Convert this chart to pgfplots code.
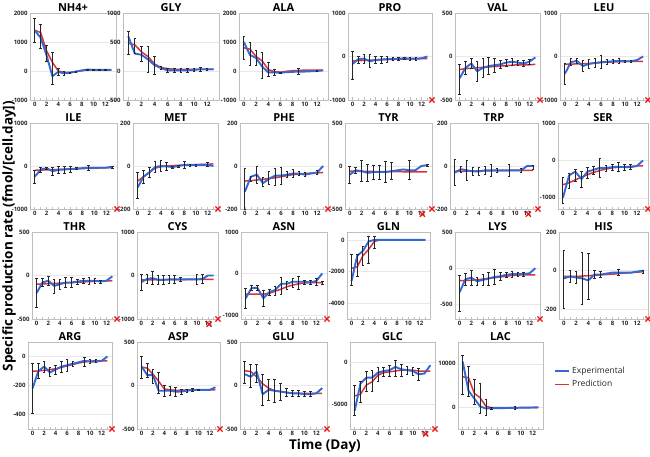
\documentclass[border=0pt]{standalone}
\usepackage{pgfplots}
\pgfplotsset{compat=1.18}
\usepackage{fontspec}
\setmainfont{Open Sans}
\definecolor{expblue}{RGB}{52,104,214}
\definecolor{predred}{RGB}{214,52,62}
\definecolor{axgray}{RGB}{190,190,190}
\definecolor{gridgray}{RGB}{232,232,232}
\definecolor{txtgray}{RGB}{35,35,35}
\definecolor{xred}{RGB}{235,20,20}
\pgfplotsset{
 every axis title/.style={at={(0.5,1)}, anchor=base, yshift=1.8pt, font=\fontsize{11}{12}\selectfont\bfseries},
 pan/.style={scale only axis, anchor=south west, xmin=-0.8, xmax=13.8,
  xtick={0,2,...,12}, minor xtick={1,3,...,13}, clip=false,
  axis line style={draw=axgray, line width=0.9pt},
  xtick style={draw=axgray, line width=0.6pt}, major tick length=2.5pt, minor tick length=2pt,
  ytick style={draw=none}, xtick pos=bottom, ytick pos=left, tick align=inside,
  ymajorgrids, grid style={draw=gridgray, line width=0.5pt},
  tick label style={font=\fontsize{6}{7}\selectfont\bfseries, text=txtgray},
  xticklabel style={yshift=1pt}, yticklabel style={xshift=1pt},
  /pgf/number format/assume math mode=true, /pgf/number format/1000 sep={},
  scaled ticks=false,
 },
 expline/.style={forget plot, draw=expblue, line width=1.9pt, mark=none, line join=round},
 predline/.style={forget plot, draw=predred, line width=1.5pt, mark=none, line join=round},
 errplot/.style={forget plot, draw=none, mark=none, error bars/.cd, y dir=both, y explicit,
   error bar style={draw=black!85, line width=0.9pt},
   error mark options={draw=black!85, rotate=90, mark size=1.3pt, line width=0.7pt}},
 xmk/.style={forget plot, only marks, mark=x, mark size=3.6pt, mark options={draw=xred, line width=1.3pt}},
}
\newcommand{\Pred}[1]{\addplot[predline] coordinates {#1};}
\newcommand{\Expt}[1]{\addplot[expline] coordinates {#1};}
\newcommand{\Err}[1]{\addplot[errplot] coordinates {#1};}
\newcommand{\Xm}[1]{\addplot[xmk] coordinates {#1};}
\begin{document}
\begin{tikzpicture}
\useasboundingbox (0,0) rectangle (650pt,-457pt);
% ---------------- Row 1
\begin{axis}[pan, at={(30pt,-100pt)}, width=86pt, height=87pt, title={NH4+}, ymin=-1000, ymax=2000, ytick={-1000,0,1000,2000}]
\Pred{(0,1400)(1,1330)(2,700)(3,300)(4,0)(5,-50)(6,-50)(7,-20)(8,10)(9,40)(10,40)(11,40)(12,40)(13,40)}
\Expt{(0,1400)(1,1150)(2,550)(3,-180)(4,-30)(5,-80)(6,-60)(7,-20)(8,20)(9,50)(10,40)(11,40)(12,40)(13,40)}
\Err{(0,1400)+-(0,400)(1,1200)+-(0,420)(2,600)+-(0,280)(3,100)+-(0,550)(4,-30)+-(0,130)(5,-80)+-(0,60)(6,-60)+-(0,20)(7,-20)+-(0,20)(9,50)+-(0,20)(10,40)+-(0,20)(11,40)+-(0,20)(12,40)+-(0,20)}
\end{axis}
\begin{axis}[pan, at={(123pt,-100pt)}, width=96pt, height=87pt, title={GLY}, ymin=-500, ymax=1000, ytick={-500,0,500,1000}]
\Pred{(0,480)(1,450)(2,330)(3,250)(4,120)(5,60)(6,40)(7,30)(8,30)(9,30)(10,30)(11,30)(12,30)(13,30)}
\Expt{(0,600)(1,300)(2,280)(3,200)(4,100)(5,50)(6,10)(7,10)(8,10)(9,10)(10,20)(11,30)(12,30)(13,30)}
\Err{(0,480)+-(0,200)(1,430)+-(0,130)(2,290)+-(0,130)(3,200)+-(0,230)(4,100)+-(0,150)(5,50)+-(0,25)(6,10)+-(0,30)(7,10)+-(0,30)(8,10)+-(0,30)(9,10)+-(0,30)(10,20)+-(0,30)(11,30)+-(0,40)(12,30)+-(0,20)}
\end{axis}
\begin{axis}[pan, at={(239pt,-100pt)}, width=89pt, height=87pt, title={ALA}, ymin=-1000, ymax=2000, ytick={-1000,0,1000,2000}]
\Pred{(0,800)(1,750)(2,500)(3,350)(4,50)(5,-20)(6,-40)(7,-10)(8,10)(9,20)(10,30)(11,30)(12,30)(13,30)}
\Expt{(0,1000)(1,550)(2,450)(3,150)(4,-50)(5,-50)(6,-60)(7,-40)(8,-30)(9,-20)(10,-20)(11,-10)(12,0)(13,20)}
\Err{(0,800)+-(0,400)(1,600)+-(0,400)(2,450)+-(0,250)(3,200)+-(0,450)(4,50)+-(0,250)(5,-50)+-(0,100)(6,-60)+-(0,20)(9,-10)+-(0,100)(12,10)+-(0,20)}
\end{axis}
\begin{axis}[pan, at={(348pt,-100pt)}, width=84pt, height=87pt, title={PRO}, ymin=-1000, ymax=1000, ytick={-1000,0,1000}]
\Pred{(0,-100)(1,-95)(2,-90)(3,-85)(4,-80)(5,-75)(6,-70)(7,-65)(8,-60)(9,-60)(10,-55)(11,-55)(12,-50)(13,-50)}
\Expt{(0,-170)(1,-60)(2,-50)(3,-110)(4,-80)(5,-70)(6,-60)(7,-60)(8,-50)(9,-40)(10,-50)(11,-50)(12,-40)(13,0)}
\Err{(0,-200)+-(0,320)(1,-70)+-(0,80)(2,-50)+-(0,100)(3,-110)+-(0,150)(4,-80)+-(0,80)(5,-70)+-(0,80)(6,-60)+-(0,70)(7,-60)+-(0,40)(8,-50)+-(0,30)(9,-40)+-(0,30)(10,-50)+-(0,30)(11,-50)+-(0,30)}
\Xm{(13.8,-1000)}
\end{axis}
\begin{axis}[pan, at={(455pt,-100pt)}, width=85pt, height=87pt, title={VAL}, ymin=-500, ymax=500, ytick={-500,0,500}]
\Pred{(0,-150)(1,-140)(2,-135)(3,-130)(4,-125)(5,-120)(6,-115)(7,-110)(8,-105)(9,-100)(10,-95)(11,-95)(12,-95)(13,-90)}
\Expt{(0,-250)(1,-130)(2,-80)(3,-170)(4,-130)(5,-110)(6,-100)(7,-90)(8,-70)(9,-60)(10,-70)(11,-80)(12,-60)(13,-10)}
\Err{(0,-260)+-(0,170)(1,-130)+-(0,70)(2,-80)+-(0,60)(3,-170)+-(0,110)(4,-130)+-(0,110)(5,-110)+-(0,100)(6,-100)+-(0,80)(7,-90)+-(0,50)(8,-70)+-(0,40)(9,-65)+-(0,40)(10,-70)+-(0,30)(11,-80)+-(0,30)(12,-60)+-(0,30)}
\Xm{(13.8,-500)}
\end{axis}
\begin{axis}[pan, at={(560pt,-100pt)}, width=88pt, height=87pt, title={LEU}, ymin=-1000, ymax=1000, ytick={-1000,0,1000}]
\Pred{(0,-180)(1,-175)(2,-170)(3,-165)(4,-160)(5,-150)(6,-140)(7,-130)(8,-125)(9,-120)(10,-115)(11,-110)(12,-110)(13,-110)}
\Expt{(0,-400)(1,-130)(2,-100)(3,-220)(4,-170)(5,-150)(6,-130)(7,-120)(8,-110)(9,-100)(10,-110)(11,-110)(12,-80)(13,0)}
\Err{(0,-400)+-(0,250)(1,-130)+-(0,80)(2,-100)+-(0,50)(3,-220)+-(0,120)(4,-170)+-(0,100)(5,-150)+-(0,100)(6,-130)+-(0,150)(7,-120)+-(0,60)(8,-110)+-(0,50)(9,-100)+-(0,50)(10,-110)+-(0,30)(11,-110)+-(0,20)}
\Xm{(13.8,-1000)}
\end{axis}
% ---------------- Row 2
\begin{axis}[pan, at={(30pt,-209pt)}, width=87pt, height=86pt, title={ILE}, ymin=-1000, ymax=1000, ytick={-1000,0,1000}]
\Pred{(0,-100)(1,-95)(2,-90)(3,-85)(4,-80)(5,-75)(6,-70)(7,-65)(8,-60)(9,-55)(10,-50)(11,-45)(12,-40)(13,-40)}
\Expt{(0,-250)(1,-80)(2,-50)(3,-120)(4,-90)(5,-80)(6,-70)(7,-60)(8,-50)(9,-40)(10,-40)(11,-40)(12,-40)(13,-20)}
\Err{(0,-250)+-(0,150)(1,-80)+-(0,60)(2,-50)+-(0,20)(3,-120)+-(0,100)(4,-90)+-(0,80)(5,-80)+-(0,80)(6,-70)+-(0,70)(7,-60)+-(0,20)(9,-40)+-(0,50)(13,-30)+-(0,30)}
\Xm{(13.8,-1000)}
\end{axis}
\begin{axis}[pan, at={(133pt,-209pt)}, width=85pt, height=86pt, title={MET}, ymin=-200, ymax=200, ytick={-200,0,200}]
\Pred{(0,-70)(1,-50)(2,-30)(3,-10)(4,-3)(5,0)(6,2)(7,3)(8,5)(9,5)(10,5)(11,8)(12,8)(13,10)}
\Expt{(0,-100)(1,-50)(2,-30)(3,-5)(4,0)(5,-2)(6,-5)(7,0)(8,5)(9,5)(10,5)(11,5)(12,5)(13,0)}
\Err{(0,-90)+-(0,60)(1,-50)+-(0,30)(2,-30)+-(0,25)(3,-5)+-(0,25)(4,0)+-(0,25)(5,-2)+-(0,20)(6,-5)+-(0,5)(7,0)+-(0,5)(8,5)+-(0,15)(9,5)+-(0,5)(10,5)+-(0,5)(12,8)+-(0,10)}
\Xm{(13.8,-200)}
\end{axis}
\begin{axis}[pan, at={(240pt,-209pt)}, width=88pt, height=86pt, title={PHE}, ymin=-200, ymax=200, ytick={-200,0,200}]
\Pred{(0,-70)(1,-68)(2,-65)(3,-62)(4,-58)(5,-55)(6,-50)(7,-45)(8,-40)(9,-38)(10,-35)(11,-33)(12,-32)(13,-30)}
\Expt{(0,-120)(1,-50)(2,-40)(3,-80)(4,-60)(5,-45)(6,-45)(7,-40)(8,-35)(9,-35)(10,-40)(11,-35)(12,-30)(13,0)}
\Err{(0,-105)+-(0,95)(1,-60)+-(0,10)(2,-40)+-(0,40)(3,-75)+-(0,20)(4,-55)+-(0,30)(5,-50)+-(0,40)(6,-45)+-(0,40)(7,-40)+-(0,15)(8,-35)+-(0,20)(9,-35)+-(0,10)(10,-38)+-(0,10)(12,-30)+-(0,10)}
\Xm{(13.8,-200)}
\end{axis}
\begin{axis}[pan, at={(345pt,-209pt)}, width=87pt, height=86pt, title={TYR}, ymin=-500, ymax=500, ytick={-500,0,500}]
\Pred{(0,-60)(1,-60)(2,-62)(3,-63)(4,-64)(5,-65)(6,-65)(7,-66)(8,-66)(9,-67)(10,-67)(11,-67)(12,-68)(13,-68)}
\Expt{(0,-100)(1,-50)(2,-60)(3,-80)(4,-70)(5,-70)(6,-70)(7,-60)(8,-50)(9,-40)(10,-50)(11,-50)(12,0)(13,10)}
\Err{(0,-100)+-(0,100)(1,-50)+-(0,30)(2,-60)+-(0,120)(3,-80)+-(0,100)(4,-70)+-(0,80)(5,-70)+-(0,80)(6,-70)+-(0,120)(7,-60)+-(0,100)(10,-50)+-(0,110)(13,10)+-(0,10)}
\Xm{(12.2,-560)(13.8,-500)}
\end{axis}
\begin{axis}[pan, at={(450pt,-209pt)}, width=88pt, height=86pt, title={TRP}, ymin=-200, ymax=200, ytick={-200,0,200}]
\Pred{(0,-25)(1,-25)(2,-24)(3,-24)(4,-23)(5,-23)(6,-22)(7,-22)(8,-21)(9,-21)(10,-20)(11,-20)(12,-20)(13,-20)}
\Expt{(0,-30)(1,-15)(2,-20)(3,-25)(4,-25)(5,-20)(6,-20)(7,-20)(8,-20)(9,-20)(10,-20)(11,-20)(12,0)(13,0)}
\Err{(0,-30)+-(0,60)(1,-15)+-(0,15)(2,-20)+-(0,45)(3,-25)+-(0,20)(4,-25)+-(0,20)(5,-20)+-(0,20)(6,-20)+-(0,30)(7,-20)+-(0,10)(9,-20)+-(0,30)(11,-20)+-(0,10)(13,-5)+-(0,10)}
\Xm{(12.2,-224)(13.8,-200)}
\end{axis}
\begin{axis}[pan, at={(558pt,-209pt)}, width=90pt, height=86pt, title={SER}, ymin=-1300, ymax=1000, ytick={-1000,0,1000}]
\Pred{(0,-650)(1,-600)(2,-520)(3,-450)(4,-380)(5,-320)(6,-270)(7,-230)(8,-200)(9,-180)(10,-170)(11,-160)(12,-150)(13,-150)}
\Expt{(0,-1000)(1,-400)(2,-300)(3,-500)(4,-300)(5,-250)(6,-200)(7,-200)(8,-180)(9,-170)(10,-180)(11,-180)(12,-150)(13,0)}
\Err{(0,-800)+-(0,350)(1,-550)+-(0,200)(2,-400)+-(0,150)(3,-500)+-(0,220)(4,-330)+-(0,150)(5,-270)+-(0,100)(6,-200)+-(0,250)(7,-220)+-(0,80)(8,-190)+-(0,80)(9,-170)+-(0,120)(10,-180)+-(0,80)(11,-180)+-(0,70)}
\Xm{(13.8,-1300)}
\end{axis}
% ---------------- Row 3
\begin{axis}[pan, at={(32pt,-319pt)}, width=85pt, height=87pt, title={THR}, ymin=-500, ymax=500, ytick={-500,0,500}]
\Pred{(0,-100)(1,-97)(2,-94)(3,-91)(4,-88)(5,-85)(6,-82)(7,-78)(8,-74)(9,-70)(10,-67)(11,-64)(12,-62)(13,-60)}
\Expt{(0,-200)(1,-80)(2,-60)(3,-120)(4,-100)(5,-80)(6,-80)(7,-70)(8,-60)(9,-60)(10,-60)(11,-70)(12,-60)(13,-10)}
\Err{(0,-200)+-(0,170)(1,-80)+-(0,50)(2,-60)+-(0,50)(3,-120)+-(0,80)(4,-100)+-(0,60)(5,-80)+-(0,60)(6,-80)+-(0,60)(7,-70)+-(0,30)(8,-60)+-(0,30)(9,-60)+-(0,40)(10,-60)+-(0,30)(11,-70)+-(0,20)}
\Xm{(13.8,-500)}
\end{axis}
\begin{axis}[pan, at={(137pt,-319pt)}, width=81pt, height=87pt, title={CYS}, ymin=-1000, ymax=1000, ytick={-1000,0,1000}]
\Pred{(0,-100)(1,-100)(2,-98)(3,-97)(4,-96)(5,-95)(6,-94)(7,-93)(8,-92)(9,-91)(10,-90)(11,-90)(12,-90)(13,-90)}
\Expt{(0,-150)(1,-80)(2,-60)(3,-100)(4,-100)(5,-90)(6,-90)(7,-90)(8,-90)(9,-90)(10,-90)(11,-80)(12,0)(13,0)}
\Err{(0,-150)+-(0,180)(1,-80)+-(0,100)(2,-60)+-(0,150)(3,-100)+-(0,100)(4,-100)+-(0,100)(5,-90)+-(0,100)(6,-90)+-(0,100)(7,-90)+-(0,50)(10,-90)+-(0,120)(11,-80)+-(0,100)}
\Xm{(12.2,-1120)(13.8,-1000)}
\end{axis}
\begin{axis}[pan, at={(241pt,-319pt)}, width=86pt, height=87pt, title={ASN}, ymin=-1100, ymax=1000, ytick={-1000,0,1000}]
\Pred{(0,-500)(1,-500)(2,-500)(3,-500)(4,-480)(5,-430)(6,-380)(7,-320)(8,-280)(9,-250)(10,-230)(11,-220)(12,-220)(13,-220)}
\Expt{(0,-600)(1,-350)(2,-350)(3,-600)(4,-450)(5,-400)(6,-250)(7,-250)(8,-200)(9,-200)(10,-200)(11,-220)(12,-180)(13,0)}
\Err{(0,-600)+-(0,250)(1,-350)+-(0,70)(2,-350)+-(0,70)(3,-600)+-(0,200)(4,-450)+-(0,70)(5,-420)+-(0,100)(6,-300)+-(0,200)(7,-280)+-(0,100)(8,-230)+-(0,100)(9,-230)+-(0,150)(10,-210)+-(0,50)(11,-220)+-(0,50)(12,-200)+-(0,80)(13,-220)+-(0,40)}
\Xm{(13.8,-1100)}
\end{axis}
\begin{axis}[pan, at={(347pt,-319pt)}, width=83pt, height=87pt, title={GLN}, ymin=-5000, ymax=500, ytick={-4000,-2000,0}]
\Pred{(0,-1800)(1,-1700)(2,-1000)(3,-600)(4,-100)(5,0)(6,0)(7,0)(8,0)(9,0)(10,0)(11,0)(12,0)(13,0)}
\Expt{(0,-2600)(1,-1000)(2,-700)(3,-100)(4,0)(5,0)(6,0)(7,0)(8,0)(9,0)(10,0)(11,0)(12,0)(13,0)}
\Err{(0,-1900)+-(0,1000)(1,-1600)+-(0,700)(2,-1000)+-(0,600)(3,-650)+-(0,850)(4,-150)+-(0,400)}
\end{axis}
\begin{axis}[pan, at={(455pt,-319pt)}, width=85pt, height=87pt, title={LYS}, ymin=-700, ymax=500, ytick={-500,0,500}]
\Pred{(0,-170)(1,-170)(2,-165)(3,-160)(4,-150)(5,-140)(6,-130)(7,-120)(8,-110)(9,-100)(10,-95)(11,-90)(12,-90)(13,-90)}
\Expt{(0,-330)(1,-150)(2,-130)(3,-180)(4,-160)(5,-140)(6,-120)(7,-110)(8,-90)(9,-80)(10,-80)(11,-80)(12,-70)(13,0)}
\Err{(0,-350)+-(0,250)(1,-150)+-(0,80)(2,-130)+-(0,100)(3,-180)+-(0,50)(4,-160)+-(0,80)(5,-140)+-(0,90)(6,-120)+-(0,100)(7,-110)+-(0,50)(8,-90)+-(0,40)(9,-80)+-(0,40)(10,-80)+-(0,30)(11,-80)+-(0,30)}
\Xm{(13.8,-700)}
\end{axis}
\begin{axis}[pan, at={(559pt,-319pt)}, width=89pt, height=87pt, title={HIS}, ymin=-250, ymax=200, ytick={-200,0,200}]
\Pred{(0,-30)(1,-30)(2,-30)(3,-28)(4,-26)(5,-24)(6,-22)(7,-20)(8,-18)(9,-15)(10,-12)(11,-10)(12,-8)(13,-5)}
\Expt{(0,-40)(1,-30)(2,-35)(3,-40)(4,-50)(5,-20)(6,-20)(7,-15)(8,-10)(9,-10)(10,-10)(11,-10)(12,-5)(13,0)}
\Err{(0,-45)+-(0,150)(1,-30)+-(0,30)(2,-35)+-(0,30)(3,-40)+-(0,135)(4,-30)+-(0,120)(5,-20)+-(0,20)(6,-20)+-(0,15)(9,-10)+-(0,15)(13,-5)+-(0,8)}
\Xm{(13.8,-250)}
\end{axis}
% ---------------- Row 4
\begin{axis}[pan, at={(28pt,-429pt)}, width=84pt, height=87pt, title={ARG}, ymin=-500, ymax=100, ytick={-400,-200,0}]
\Pred{(0,-100)(1,-100)(2,-95)(3,-90)(4,-85)(5,-75)(6,-65)(7,-55)(8,-45)(9,-38)(10,-32)(11,-30)(12,-30)(13,-30)}
\Expt{(0,-220)(1,-100)(2,-70)(3,-110)(4,-90)(5,-70)(6,-60)(7,-50)(8,-40)(9,-30)(10,-35)(11,-35)(12,-30)(13,0)}
\Err{(0,-220)+-(0,170)(1,-100)+-(0,50)(2,-70)+-(0,40)(3,-105)+-(0,30)(4,-90)+-(0,30)(5,-70)+-(0,40)(6,-60)+-(0,40)(7,-50)+-(0,15)(9,-35)+-(0,30)(10,-35)+-(0,15)(11,-32)+-(0,10)}
\Xm{(13.8,-500)}
\end{axis}
\begin{axis}[pan, at={(137pt,-429pt)}, width=83pt, height=87pt, title={ASP}, ymin=-500, ymax=500, ytick={-500,0,500}]
\Pred{(0,210)(1,200)(2,130)(3,50)(4,-40)(5,-50)(6,-55)(7,-55)(8,-50)(9,-50)(10,-50)(11,-50)(12,-50)(13,-50)}
\Expt{(0,220)(1,120)(2,120)(3,-60)(4,-60)(5,-60)(6,-70)(7,-70)(8,-60)(9,-50)(10,-50)(11,-50)(12,-50)(13,-20)}
\Err{(0,210)+-(0,130)(1,170)+-(0,80)(2,100)+-(0,80)(3,30)+-(0,120)(4,-60)+-(0,60)(5,-60)+-(0,50)(6,-70)+-(0,50)(7,-70)+-(0,30)(8,-60)+-(0,15)(9,-50)+-(0,15)(10,-50)+-(0,10)}
\Xm{(13.8,-500)}
\end{axis}
\begin{axis}[pan, at={(240pt,-429pt)}, width=87pt, height=87pt, title={GLU}, ymin=-500, ymax=500, ytick={-500,0,500}]
\Pred{(0,170)(1,160)(2,100)(3,20)(4,-30)(5,-60)(6,-70)(7,-80)(8,-90)(9,-90)(10,-90)(11,-90)(12,-90)(13,-90)}
\Expt{(0,130)(1,100)(2,160)(3,-100)(4,-50)(5,-60)(6,-70)(7,-80)(8,-90)(9,-90)(10,-100)(11,-100)(12,-90)(13,-30)}
\Err{(0,150)+-(0,130)(1,110)+-(0,130)(2,140)+-(0,100)(3,-50)+-(0,180)(4,-50)+-(0,120)(5,-60)+-(0,130)(6,-70)+-(0,100)(7,-80)+-(0,50)(8,-90)+-(0,40)(9,-90)+-(0,40)(10,-100)+-(0,30)(11,-100)+-(0,30)}
\Xm{(13.8,-500)}
\end{axis}
\begin{axis}[pan, at={(350pt,-429pt)}, width=85pt, height=87pt, title={GLC}, ymin=-8000, ymax=2500, ytick={-5000,0}]
\Pred{(0,-4000)(1,-3800)(2,-2700)(3,-2300)(4,-1500)(5,-1200)(6,-1100)(7,-1000)(8,-900)(9,-900)(10,-900)(11,-1000)(12,-1000)(13,-1000)}
\Expt{(0,-5800)(1,-2500)(2,-1800)(3,-1800)(4,-1200)(5,-1000)(6,-900)(7,-500)(8,-800)(9,-900)(10,-1000)(11,-1400)(12,-1300)(13,-300)}
\Err{(0,-4500)+-(0,1800)(1,-3500)+-(0,1300)(2,-2200)+-(0,1200)(3,-2200)+-(0,1300)(4,-1400)+-(0,800)(5,-1100)+-(0,600)(6,-1000)+-(0,700)(7,-700)+-(0,1000)(8,-900)+-(0,700)(9,-900)+-(0,500)(10,-1000)+-(0,500)(11,-1400)+-(0,700)}
\Xm{(12.2,-8600)(13.8,-8000)}
\end{axis}
\begin{axis}[pan, at={(458pt,-429pt)}, width=85pt, height=87pt, title={LAC}, ymin=-5000, ymax=15000, ytick={0,10000},
  legend style={at={(1.13,0.74)}, anchor=north west, draw=none, fill=none, font=\fontsize{8.5}{9}\selectfont, text=txtgray, inner sep=0pt, row sep=1.5pt},
  legend cell align=left, legend image code/.code={\draw[#1] (0pt,0pt) -- (14pt,0pt);}]
\Pred{(0,7000)(1,6800)(2,3200)(3,2200)(4,200)(5,-100)(6,-100)(7,-100)(8,-100)(9,-100)(10,-100)(11,-100)(12,-100)(13,-100)}
\Expt{(0,10500)(1,3800)(2,2000)(3,200)(4,-300)(5,-200)(6,-200)(7,-200)(8,-150)(9,-150)(10,-100)(11,-100)(12,-50)(13,0)}
\Err{(0,7500)+-(0,4500)(1,6000)+-(0,3500)(2,3500)+-(0,2800)(3,2000)+-(0,3500)(4,0)+-(0,1800)(5,-200)+-(0,200)(9,-150)+-(0,300)}
\addlegendimage{draw=expblue, line width=1.9pt}\addlegendentry{Experimental}
\addlegendimage{draw=predred, line width=1.5pt}\addlegendentry{Prediction}
\end{axis}
% ---------------- Labels
\node[rotate=90, font=\fontsize{13.5}{15}\selectfont\bfseries, text=black] at (9pt,-236pt) {Specific production rate (fmol/[cell.day])};
\node[font=\fontsize{13.5}{15}\selectfont\bfseries, text=black] at (325pt,-446pt) {Time (Day)};
\end{tikzpicture}
\end{document}
